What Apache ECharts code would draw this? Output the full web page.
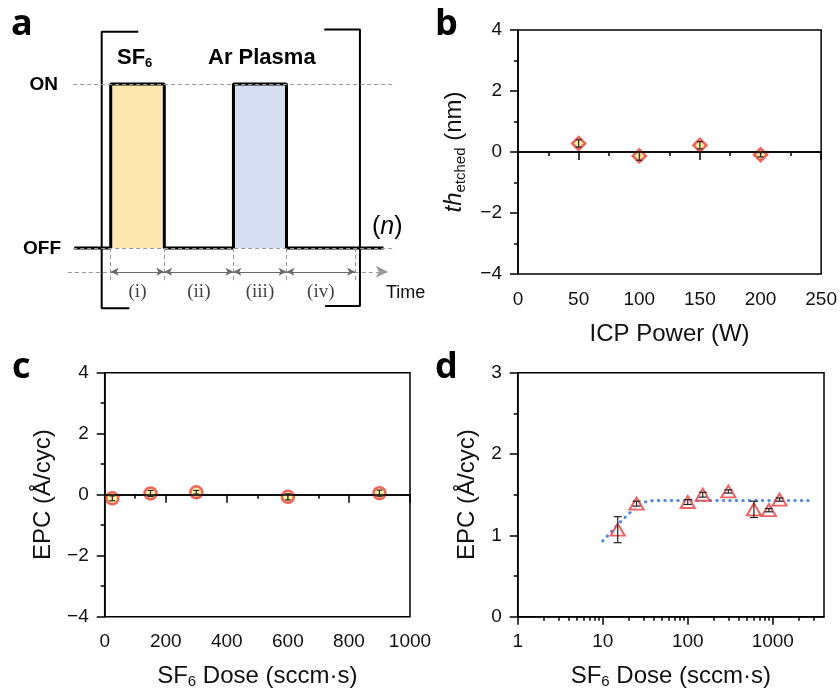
<!DOCTYPE html>
<html>
<head>
<meta charset="utf-8">
<title>SF6 / Ar plasma etch</title>
<script src="https://cdn.jsdelivr.net/npm/echarts@6/dist/echarts.min.js"></script>
<style>
html, body { margin: 0; background: #fff; }
#main { width: 840px; height: 692px; }
</style>
</head>
<body>
<div id="main"></div>
<script>
// (a) pulse sequence: time in units of one SF6 pulse, level 0 = OFF, 1 = ON
var waveTime = [-0.68, 0, 0, 1, 1, 2.29, 2.29, 3.28, 3.28, 5.09];
var waveLevel = [0, 0, 1, 1, 0, 0, 1, 1, 0, 0];
var pulseSpans = [[0, 1], [2.29, 3.28]];
var stepEdges = [0, 1, 2.29, 3.28, 4.56];
var stepLabels = ['(i)', '(ii)', '(iii)', '(iv)'];

// (b) etched thickness vs ICP power
var icpPower = [50, 100, 150, 200];
var thEtched = [0.28, -0.13, 0.22, -0.09];
var thErr = [0.12, 0.14, 0.12, 0.07];

// (c) EPC vs SF6 dose
var doseC = [25, 150, 300, 600, 900];
var epcC = [-0.12, 0.04, 0.08, -0.07, 0.05];
var errC = [0.08, 0.1, 0.06, 0.1, 0.1];

// (d) EPC vs SF6 dose, log scale
var doseD = [15, 25, 100, 150, 300, 600, 900, 1200];
var epcD = [1.07, 1.39, 1.41, 1.50, 1.54, 1.32, 1.31, 1.44];
var errD = [0.16, 0.03, 0.03, 0.03, 0.02, 0.10, 0.02, 0.02];
var fitDose = [10, 12.5, 17, 21.5, 25, 31, 40, 100, 3000];
var fitEpc = [0.93, 1.04, 1.19, 1.29, 1.36, 1.41, 1.43, 1.43, 1.43];

var logMajor = [1, 10, 100, 1000];
var logMinor = [2, 3, 4, 5, 6, 7, 8, 9, 20, 30, 40, 50, 60, 70, 80, 90,
    200, 300, 400, 500, 600, 700, 800, 900, 2000, 3000];

var FONT = '"Liberation Sans", Arial, sans-serif';
var INK = '#111';

var chart = echarts.init(document.getElementById('main'));

function minus(v) {
    return String(v).replace('-', '\u2212');
}

function axisLook(extra) {
    var o = {
        axisLine: { show: true, lineStyle: { color: '#000', width: 1.5 } },
        axisTick: { show: true, inside: false, length: 8, lineStyle: { color: '#000', width: 1.5 } },
        minorTick: { show: true, splitNumber: 2, length: 4, lineStyle: { color: '#000', width: 1.5 } },
        axisLabel: { color: INK, fontSize: 19, fontFamily: FONT, margin: 16, formatter: minus },
        splitLine: { show: false },
        nameLocation: 'middle',
        nameTextStyle: { color: INK, fontSize: 24, fontFamily: FONT,
            rich: {
                sub: { fontSize: 15, fontFamily: FONT, color: INK, padding: [12, 0, 0, 0] },
                it: { fontSize: 24, fontFamily: FONT, color: INK, fontStyle: 'italic' }
            } }
    };
    return Object.assign(o, extra);
}

function errorBars(xi, yi, xs, ys, es, cap) {
    return {
        type: 'custom', xAxisIndex: xi, yAxisIndex: yi, z: 6, silent: true,
        data: xs.map(function (x, i) { return [x, ys[i], es[i]]; }),
        renderItem: function (params, api) {
            var x = api.value(0), y = api.value(1), e = api.value(2);
            var hi = api.coord([x, y + e]);
            var lo = api.coord([x, y - e]);
            var st = { stroke: '#222', lineWidth: 1.2 };
            return {
                type: 'group', children: [
                    { type: 'line', shape: { x1: hi[0], y1: hi[1], x2: lo[0], y2: lo[1] }, style: st },
                    { type: 'line', shape: { x1: hi[0] - cap, y1: hi[1], x2: hi[0] + cap, y2: hi[1] }, style: st },
                    { type: 'line', shape: { x1: lo[0] - cap, y1: lo[1], x2: lo[0] + cap, y2: lo[1] }, style: st }
                ]
            };
        }
    };
}

function zeroLine(xi, yi) {
    return {
        type: 'line', xAxisIndex: xi, yAxisIndex: yi, data: [], z: 1,
        markLine: { silent: true, symbol: 'none', label: { show: false },
            lineStyle: { color: '#000', width: 1.5, type: 'solid' }, data: [{ yAxis: 0 }] }
    };
}

var markerStyle = { color: '#fdf08a', borderColor: '#f2393a', borderWidth: 2.5 };

var dashed = { color: '#9a9a9a', width: 1, type: [4, 3] };

var option = {
    animation: false,
    backgroundColor: '#fff',
    grid: [
        { left: 57.1, top: 2, width: 348.4, height: 328 },
        { left: 518, top: 30, width: 305.5, height: 244, show: true, borderColor: '#000', borderWidth: 1.5 },
        { left: 104.7, top: 372.7, width: 305.3, height: 244, show: true, borderColor: '#000', borderWidth: 1.5 },
        { left: 517.7, top: 372.7, width: 306.3, height: 244, show: true, borderColor: '#000', borderWidth: 1.5 }
    ],
    xAxis: [
        { gridIndex: 0, type: 'value', min: -1, max: 5.5, show: false },
        axisLook({ gridIndex: 1, type: 'value', min: 0, max: 250, interval: 50,
            name: 'ICP Power (W)', nameGap: 48 }),
        axisLook({ gridIndex: 2, type: 'value', min: 0, max: 1000, interval: 200,
            name: 'SF{sub|6} Dose (sccm\u00b7s)', nameGap: 46 }),
        axisLook({ gridIndex: 3, type: 'log', logBase: 10, min: 1, max: 4000,
            name: 'SF{sub|6} Dose (sccm\u00b7s)', nameGap: 46,
            minorTick: { show: false },
            axisTick: { show: true, inside: false, length: 8, customValues: logMajor,
                lineStyle: { color: '#000', width: 1.5 } },
            axisLabel: { color: INK, fontSize: 19, fontFamily: FONT, margin: 16, customValues: logMajor,
                formatter: function (v) { return String(v); } } }),
        { gridIndex: 3, type: 'log', logBase: 10, min: 1, max: 4000, position: 'bottom',
            axisLine: { show: false }, splitLine: { show: false }, axisLabel: { show: false },
            axisTick: { show: true, inside: false, length: 4, customValues: logMinor,
                lineStyle: { color: '#000', width: 1.5 } } }
    ],
    yAxis: [
        { gridIndex: 0, type: 'value', min: -0.5, max: 1.5, show: false },
        axisLook({ gridIndex: 1, type: 'value', min: -4, max: 4, interval: 2,
            name: '{it|th}{sub|etched} (nm)', nameGap: 50 }),
        axisLook({ gridIndex: 2, type: 'value', min: -4, max: 4, interval: 2,
            name: 'EPC (\u00c5/cyc)', nameGap: 49 }),
        axisLook({ gridIndex: 3, type: 'value', min: 0, max: 3, interval: 1,
            name: 'EPC (\u00c5/cyc)', nameGap: 38 })
    ],
    series: [
        // (a) guide lines at ON / OFF levels
        {
            type: 'line', xAxisIndex: 0, yAxisIndex: 0, data: [], z: 1,
            markLine: { silent: true, symbol: 'none', label: { show: false }, lineStyle: dashed,
                data: [
                    [{ coord: [-0.7, 1] }, { coord: [5.3, 1] }],
                    [{ coord: [-0.7, 0] }, { coord: [5.3, 0] }]
                ].concat(stepEdges.map(function (t) {
                    return [{ coord: [t, 0] }, { coord: [t, -0.215] }];
                })) }
        },
        // (a) time arrow
        {
            type: 'line', xAxisIndex: 0, yAxisIndex: 0, data: [], z: 1,
            markLine: { silent: true, symbol: ['none', 'arrow'], symbolSize: [9, 12], label: { show: false },
                lineStyle: { color: '#9a9a9a', width: 1, type: [4, 3] },
                data: [[{ coord: [-0.8, -0.145] }, { coord: [5.17, -0.145] }]] }
        },
        // (a) phase arrows
        {
            type: 'line', xAxisIndex: 0, yAxisIndex: 0, data: [], z: 2,
            markLine: { silent: true, symbol: ['arrow', 'arrow'], symbolSize: [6, 8], label: { show: false },
                lineStyle: { color: '#6a6a6a', width: 1, type: 'solid' },
                data: stepLabels.map(function (s, i) {
                    return [{ coord: [stepEdges[i], -0.145] }, { coord: [stepEdges[i + 1], -0.145] }];
                }) }
        },
        // (a) waveform
        {
            type: 'line', xAxisIndex: 0, yAxisIndex: 0, z: 4, symbol: 'none',
            lineStyle: { color: '#000', width: 3 },
            data: waveTime.map(function (t, i) { return [t, waveLevel[i]]; }),
            markArea: { silent: true,
                data: pulseSpans.map(function (p, i) {
                    return [{ coord: [p[0], 0], itemStyle: { color: i === 0 ? '#fde9b0' : '#d6dff1' } },
                        { coord: [p[1], 1] }];
                }) }
        },
        // (a) brackets
        {
            type: 'line', xAxisIndex: 0, yAxisIndex: 0, z: 4, symbol: 'none',
            lineStyle: { color: '#000', width: 2 },
            data: [[0.515, 1.319], [-0.168, 1.319], [-0.168, -0.368], [0.347, -0.368]]
        },
        {
            type: 'line', xAxisIndex: 0, yAxisIndex: 0, z: 4, symbol: 'none',
            lineStyle: { color: '#000', width: 2 },
            data: [[3.985, 1.333], [4.65, 1.333], [4.65, -0.354], [4.0, -0.354]]
        },
        // (a) phase labels
        {
            type: 'scatter', xAxisIndex: 0, yAxisIndex: 0, symbolSize: 1, silent: true,
            itemStyle: { color: 'rgba(0,0,0,0)' },
            data: stepLabels.map(function (s, i) {
                return [(stepEdges[i] + stepEdges[i + 1]) / 2, -0.268, s];
            }),
            label: { show: true, position: 'inside', color: INK, fontSize: 19,
                fontFamily: '"Liberation Serif", "DejaVu Serif", serif',
                formatter: function (p) { return p.value[2]; } }
        },

        // (b)
        zeroLine(1, 1),
        {
            type: 'scatter', xAxisIndex: 1, yAxisIndex: 1, z: 4, symbol: 'diamond', symbolSize: 13,
            itemStyle: markerStyle,
            data: icpPower.map(function (x, i) { return [x, thEtched[i]]; })
        },
        errorBars(1, 1, icpPower, thEtched, thErr, 3),

        // (c)
        zeroLine(2, 2),
        {
            type: 'scatter', xAxisIndex: 2, yAxisIndex: 2, z: 4, symbol: 'circle', symbolSize: 12,
            itemStyle: markerStyle,
            data: doseC.map(function (x, i) { return [x, epcC[i]]; })
        },
        errorBars(2, 2, doseC, epcC, errC, 3),

        // (d)
        {
            type: 'line', xAxisIndex: 3, yAxisIndex: 3, z: 2, symbol: 'none',
            lineStyle: { color: '#4d8de6', width: 3, type: [0.5, 6], cap: 'round' },
            data: fitDose.map(function (x, i) { return [x, fitEpc[i]]; })
        },
        {
            type: 'scatter', xAxisIndex: 3, yAxisIndex: 3, z: 4, symbol: 'triangle', symbolSize: [14, 12],
            itemStyle: { color: '#fff', borderColor: '#f2393a', borderWidth: 2 },
            data: doseD.map(function (x, i) { return [x, epcD[i]]; })
        },
        errorBars(3, 3, doseD, epcD, errD, 4)
    ],
    graphic: [
        { type: 'text', x: 11, y: 25, style: { text: 'a', fill: '#000', font: 'bold 36px "Open Sans", sans-serif', verticalAlign: 'middle' } },
        { type: 'text', x: 435, y: 25, style: { text: 'b', fill: '#000', font: 'bold 36px "Open Sans", sans-serif', verticalAlign: 'middle' } },
        { type: 'text', x: 12, y: 368, style: { text: 'c', fill: '#000', font: 'bold 36px "Open Sans", sans-serif', verticalAlign: 'middle' } },
        { type: 'text', x: 435, y: 368, style: { text: 'd', fill: '#000', font: 'bold 36px "Open Sans", sans-serif', verticalAlign: 'middle' } },
        { type: 'text', x: 117, y: 58, style: { text: 'SF{s|6}', fill: '#000', fontSize: 22, fontWeight: 'bold', fontFamily: FONT, verticalAlign: 'middle',
            rich: { s: { fontSize: 13, fontWeight: 'bold', fontFamily: FONT, fill: '#000', padding: [10, 0, 0, 0] } } } },
        { type: 'text', x: 208, y: 58, style: { text: 'Ar Plasma', fill: '#000', fontSize: 22, fontWeight: 'bold', fontFamily: FONT, verticalAlign: 'middle' } },
        { type: 'text', x: 58, y: 85, style: { text: 'ON', fill: '#000', fontSize: 19, fontWeight: 'bold', fontFamily: FONT, align: 'right', verticalAlign: 'middle' } },
        { type: 'text', x: 61, y: 249, style: { text: 'OFF', fill: '#000', fontSize: 19, fontWeight: 'bold', fontFamily: FONT, align: 'right', verticalAlign: 'middle' } },
        { type: 'text', x: 372, y: 227, style: { text: '({i|n})', fill: '#000', fontSize: 25, fontFamily: FONT, verticalAlign: 'middle',
            rich: { i: { fontSize: 25, fontStyle: 'italic', fontFamily: FONT, fill: '#000' } } } },
        { type: 'text', x: 386, y: 293, style: { text: 'Time', fill: INK, fontSize: 18, fontFamily: FONT, verticalAlign: 'middle' } }
    ]
};

chart.setOption(option);
</script>
</body>
</html>
